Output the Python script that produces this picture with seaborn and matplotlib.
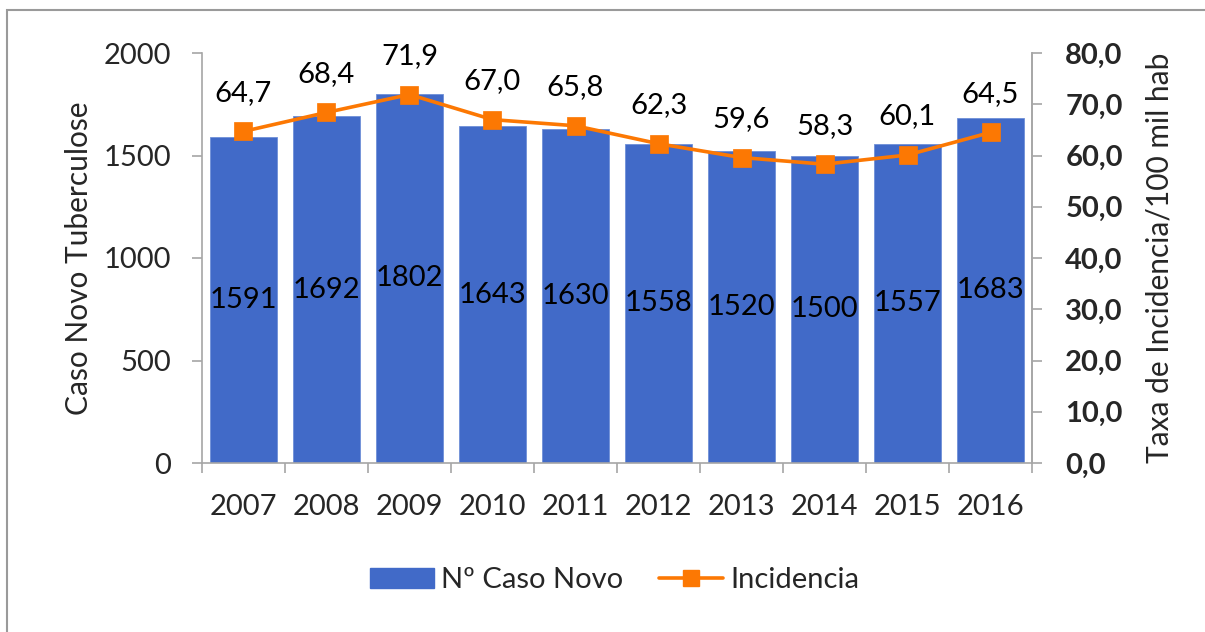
import matplotlib
matplotlib.use("Agg")
import matplotlib.pyplot as plt
import matplotlib.patches as mpatches
from matplotlib.lines import Line2D
import seaborn as sns
import pandas as pd
import numpy as np

# data
years = ["2007", "2008", "2009", "2010", "2011", "2012", "2013", "2014", "2015", "2016"]
casos = [1591, 1692, 1802, 1643, 1630, 1558, 1520, 1500, 1557, 1683]
incidencia = [64.7, 68.4, 71.9, 67.0, 65.8, 62.3, 59.6, 58.3, 60.1, 64.5]

BAR = "#416AC8"
ORANGE = "#FC7803"
GRID = "#A6A6A6"
FS = 21

sns.set_theme(style="white")
plt.rcParams['font.family'] = ['Lato', 'DejaVu Sans']

df = pd.DataFrame({"Ano": years, "Casos": casos, "Incidencia": incidencia})

fig = plt.figure(figsize=(12.05, 6.32), dpi=100)
ax = fig.add_axes([202 / 1205, 1 - 463 / 632, (1032 - 202) / 1205, (463 - 53) / 632])

sns.barplot(data=df, x="Ano", y="Casos", color=BAR, saturation=1, width=0.8,
            edgecolor="#6F8FD8", linewidth=0.6, ax=ax)
ax.set_xlim(-0.5, 9.5)
ax.set_ylim(0, 2000)
ax.set_yticks([0, 500, 1000, 1500, 2000])
ax.set_xlabel("")
ax.set_ylabel("Caso Novo Tuberculose", fontsize=21.5, labelpad=8)

# bar value labels in the middle of each bar
for p, v in zip(ax.patches, casos):
    ax.text(p.get_x() + p.get_width() / 2, v / 2, str(v), ha="center", va="center",
            fontsize=FS, color="black")

# axes styling
ax.spines["top"].set_visible(False)
for s in ["left", "right", "bottom"]:
    ax.spines[s].set_color(GRID)
    ax.spines[s].set_linewidth(1.2)
ax.tick_params(axis="y", which="major", length=7, color=GRID, width=1.2, labelsize=FS, pad=15,
               direction="out", left=True)
ax.tick_params(axis="x", which="major", length=0, labelsize=FS, pad=22)
ax.set_xticks(np.arange(-0.5, 10, 1), minor=True)
ax.tick_params(axis="x", which="minor", length=7, color=GRID, width=1.2, direction="out", bottom=True)

# line on secondary axis
ax2 = ax.twinx()
sns.pointplot(data=df, x="Ano", y="Incidencia", color=ORANGE, markers="s",
              markersize=11, linewidth=2.6, ax=ax2)
ax2.set_xlim(-0.5, 9.5)
ax2.set_ylim(0, 80)
ax2.set_yticks(np.arange(0, 81, 10))
ax2.set_yticklabels([f"{v:.1f}".replace(".", ",") for v in np.arange(0, 81, 10)],
                    fontweight="bold")
ax2.set_ylabel("Taxa de Incidencia/100 mil hab", fontsize=21.5, labelpad=16)
ax2.set_xlabel("")
for s in ["top", "left", "bottom"]:
    ax2.spines[s].set_visible(False)
ax2.spines["right"].set_color(GRID)
ax2.spines["right"].set_linewidth(1.2)
ax2.tick_params(axis="y", length=7, color=GRID, width=1.2, labelsize=FS, pad=17,
                direction="out", right=True)

for i, v in enumerate(incidencia):
    ax2.text(i, v + 5, f"{v:.1f}".replace(".", ","), ha="center", va="bottom",
             fontsize=FS, color="black")

# legend
handles = [mpatches.Patch(color=BAR, label="Nº Caso Novo"),
           Line2D([0], [0], color=ORANGE, lw=2.6, marker="s", markersize=12, label="Incidencia")]
fig.legend(handles=handles, loc="center", bbox_to_anchor=(0.51, 1 - 580 / 632), ncol=2,
           frameon=False, fontsize=FS, handlelength=2.2, columnspacing=1.2, handletextpad=0.25)

# outer chart border
fig.patches.append(mpatches.Rectangle((7 / 1205, -0.1), 1.2, 1 - 10 / 632 + 0.1,
                                      transform=fig.transFigure, fill=False,
                                      edgecolor="#9A9A9A", linewidth=1.5))

fig.savefig("out.png", dpi=100)
